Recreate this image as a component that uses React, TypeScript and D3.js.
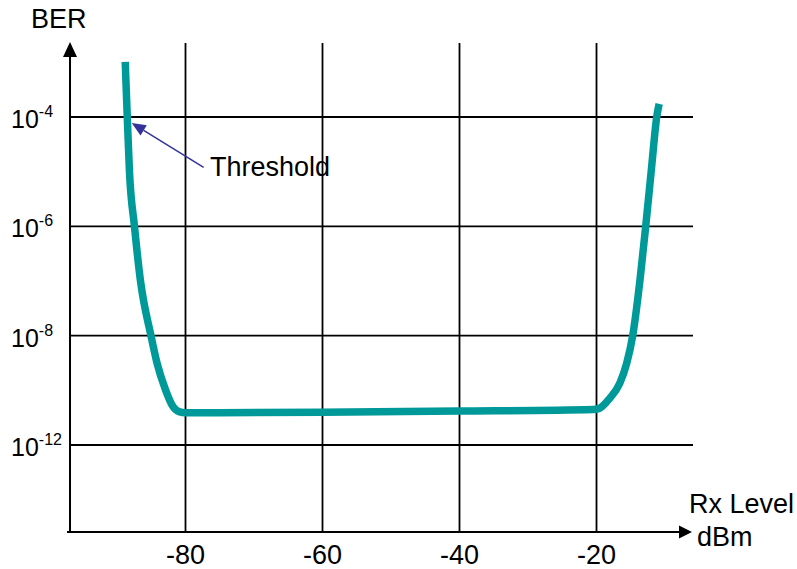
import React from "react";
import * as d3 from "d3";

// Rx level (dBm) vs log10(BER)
const rxLevel = [-88.8, -88.5, -88.18, -87.45, -86.57, -85.04, -84.16, -82.89, -81.82, -80.95, -80, -60, -40, -20.5, -19.6, -18.1, -16.6, -15.6, -14.7, -13.65, -12.8, -11.95, -11.2, -10.85];
const logBer = [-2.99, -4.0, -5.0, -6.0, -7.0, -8.0, -8.5, -9.0, -9.3, -9.39, -9.41, -9.4, -9.38, -9.35, -9.33, -9.15, -8.87, -8.51, -7.99, -6.98, -5.98, -4.91, -3.99, -3.76];

const xTicks = [-80, -60, -40, -20];
const yGridPositions = [-4, -6, -8, -10];
const yTickExponents = ["-4", "-6", "-8", "-12"];

const W = 797;
const H = 569;
const FONT = "'Liberation Sans', Arial, sans-serif";

export default function App() {
  const x = d3.scaleLinear().domain([-80, -20]).range([185.5, 596.5]);
  const y = d3.scaleLinear().domain([-4, -10]).range([117, 445]);

  const axisX = x(-96.86);
  const axisY = 532;
  const top = 43;
  const right = 693;

  const pts: [number, number][] = rxLevel.map((v, i) => [v, logBer[i]]);
  const line = d3
    .line<[number, number]>()
    .x((d) => x(d[0]))
    .y((d) => y(d[1]))
    .curve(d3.curveMonotoneX);

  // Threshold annotation
  const tipX = x(-87.85);
  const tipY = y(-4.11);
  const tailX = x(-77.35);
  const tailY = y(-4.92);
  const ang = Math.atan2(tipY - tailY, tipX - tailX);
  const ah = 14;
  const aw = 6;
  const bx = tipX - ah * Math.cos(ang);
  const by = tipY - ah * Math.sin(ang);
  const arrowHead = `M${tipX},${tipY} L${bx + aw * Math.sin(ang)},${by - aw * Math.cos(ang)} L${bx - aw * Math.sin(ang)},${by + aw * Math.cos(ang)} Z`;

  return (
    <svg width={W} height={H} style={{ position: "absolute", left: 0, top: 0 }} fontFamily={FONT}>
      <rect width={W} height={H} fill="#fff" />
      {/* vertical gridlines */}
      {xTicks.map((t) => (
        <line key={"vx" + t} x1={x(t)} x2={x(t)} y1={top} y2={axisY} stroke="#000" strokeWidth={1.8} />
      ))}
      {/* horizontal gridlines */}
      {yGridPositions.map((t) => (
        <line key={"hy" + t} x1={axisX} x2={right} y1={y(t)} y2={y(t)} stroke="#000" strokeWidth={1.8} />
      ))}
      {/* axes */}
      <line x1={axisX} x2={axisX} y1={55} y2={axisY} stroke="#000" strokeWidth={2} />
      <path d={`M${axisX},${42} L${axisX - 7},${57} L${axisX + 7},${57} Z`} fill="#000" />
      <line x1={67} x2={682} y1={axisY} y2={axisY} stroke="#000" strokeWidth={2} />
      <path d={`M${692},${axisY} L${679},${axisY - 6.5} L${679},${axisY + 6.5} Z`} fill="#000" />

      {/* curve */}
      <path d={line(pts) || ""} fill="none" stroke="#009999" strokeWidth={7.5} strokeLinejoin="round" />

      {/* x tick labels */}
      {xTicks.map((t) => (
        <text key={"xt" + t} x={x(t)} y={564} textAnchor="middle" fontSize={27} fill="#000">
          {t}
        </text>
      ))}
      {/* y tick labels */}
      {yGridPositions.map((t, i) => (
        <text key={"yt" + t} x={11} y={y(t) + 11} fontSize={25} fill="#000">
          10
          <tspan dy={-11} fontSize={16}>
            {yTickExponents[i]}
          </tspan>
        </text>
      ))}

      {/* axis titles */}
      <text x={31} y={28} fontSize={27} fill="#000">BER</text>
      <text x={689} y={513} fontSize={27} fill="#000">Rx Level</text>
      <text x={697} y={546} fontSize={27} fill="#000">dBm</text>

      {/* threshold annotation */}
      <line x1={tailX} y1={tailY} x2={bx} y2={by} stroke="#333399" strokeWidth={1.5} />
      <path d={arrowHead} fill="#333399" />
      <text x={210} y={176} fontSize={27} fill="#000">Threshold</text>
    </svg>
  );
}
